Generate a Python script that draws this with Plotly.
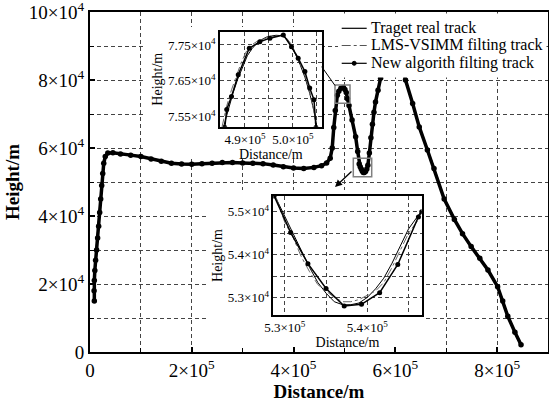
import plotly.graph_objects as go

# ---------------- data ----------------
# main track: distance (m) and height (m)
main_x = [8.5e3, 8.0e3, 8.5e3, 9.5e3, 1.1e4, 1.3e4, 1.5e4, 1.7e4, 1.9e4, 2.1e4, 2.3e4, 2.5e4, 2.7e4,
          3.0e4, 3.5e4, 4.5e4, 6.0e4, 8.0e4, 1.0e5, 1.2e5, 1.4e5, 1.6e5, 1.8e5, 2.0e5, 2.2e5,
          2.4e5, 2.6e5, 2.8e5, 3.0e5, 3.2e5, 3.4e5, 3.6e5, 3.8e5, 4.0e5, 4.2e5, 4.4e5, 4.55e5,
          4.65e5, 4.72e5, 4.76e5, 4.79e5, 4.82e5, 4.86e5, 4.89e5, 4.93e5, 4.98e5, 5.01e5, 5.035e5,
          5.06e5, 5.09e5, 5.15e5, 5.22e5, 5.26e5, 5.29e5, 5.31e5, 5.33e5, 5.35e5, 5.37e5, 5.39e5,
          5.415e5, 5.44e5, 5.46e5, 5.49e5, 5.52e5, 5.55e5, 5.58e5, 5.61e5, 5.66e5, 5.71e5, 5.8e5,
          5.95e5, 6.1e5, 6.2e5, 6.34e5, 6.47e5, 6.63e5, 6.76e5, 6.96e5, 7.16e5, 7.32e5, 7.49e5,
          7.66e5, 7.82e5, 8.01e5, 8.11e5, 8.21e5, 8.35e5, 8.47e5]
main_h = [1.50e4, 1.80e4, 2.10e4, 2.40e4, 2.70e4, 3.00e4, 3.35e4, 3.70e4, 4.10e4, 4.50e4, 4.90e4, 5.25e4, 5.55e4,
          5.75e4, 5.85e4, 5.86e4, 5.82e4, 5.79e4, 5.75e4, 5.68e4, 5.61e4, 5.55e4, 5.53e4, 5.52e4, 5.54e4,
          5.55e4, 5.57e4, 5.57e4, 5.56e4, 5.55e4, 5.54e4, 5.50e4, 5.45e4, 5.41e4, 5.40e4, 5.43e4, 5.48e4,
          5.56e4, 5.70e4, 6.00e4, 6.60e4, 7.10e4, 7.55e4, 7.67e4, 7.76e4, 7.78e4, 7.72e4, 7.63e4,
          7.45e4, 7.25e4, 6.82e4, 6.33e4, 5.90e4, 5.53e4, 5.45e4, 5.38e4, 5.32e4, 5.28e4, 5.28e4,
          5.31e4, 5.38e4, 5.49e4, 5.85e4, 6.30e4, 6.70e4, 7.05e4, 7.35e4, 7.70e4, 8.05e4, 8.90e4,
          9.40e4, 8.90e4, 8.00e4, 7.31e4, 6.62e4, 5.94e4, 5.40e4, 4.50e4, 3.90e4, 3.48e4, 3.10e4,
          2.76e4, 2.41e4, 1.92e4, 1.50e4, 1.05e4, 5.8e3, 2.1e3]

# zoom 1 (peak)
peak_real_x = [4.855e5, 4.865e5, 4.875e5, 4.885e5, 4.895e5, 4.905e5, 4.915e5, 4.925e5, 4.935e5, 4.945e5,
               4.955e5, 4.965e5, 4.975e5, 4.985e5, 4.995e5, 5.005e5, 5.015e5, 5.025e5, 5.035e5, 5.045e5, 5.05e5]
peak_real_h = [7.52e4, 7.57e4, 7.615e4, 7.655e4, 7.69e4, 7.72e4, 7.74e4, 7.755e4, 7.765e4, 7.772e4,
               7.775e4, 7.777e4, 7.776e4, 7.77e4, 7.75e4, 7.725e4, 7.695e4, 7.66e4, 7.615e4, 7.56e4, 7.52e4]
peak_lms_x = [4.852e5, 4.862e5, 4.872e5, 4.882e5, 4.892e5, 4.902e5, 4.912e5, 4.925e5, 4.94e5, 4.955e5,
              4.97e5, 4.985e5, 4.995e5, 5.005e5, 5.015e5, 5.025e5, 5.035e5, 5.043e5, 5.048e5]
peak_lms_h = [7.52e4, 7.58e4, 7.625e4, 7.665e4, 7.70e4, 7.73e4, 7.748e4, 7.76e4, 7.768e4, 7.772e4,
              7.776e4, 7.772e4, 7.755e4, 7.73e4, 7.70e4, 7.665e4, 7.62e4, 7.57e4, 7.52e4]
peak_new_x = [4.858e5, 4.862e5, 4.872e5, 4.886e5, 4.909e5, 4.931e5, 4.952e5, 4.98e5, 4.997e5, 5.011e5,
              5.025e5, 5.035e5, 5.044e5, 5.048e5]
peak_new_h = [7.52e4, 7.57e4, 7.606e4, 7.667e4, 7.741e4, 7.759e4, 7.769e4, 7.778e4, 7.745e4, 7.713e4,
              7.676e4, 7.63e4, 7.597e4, 7.52e4]

# zoom 2 (valley)
val_real_x = [5.288e5, 5.30e5, 5.31e5, 5.32e5, 5.33e5, 5.34e5, 5.35e5, 5.36e5, 5.37e5, 5.38e5, 5.39e5,
              5.40e5, 5.41e5, 5.42e5, 5.43e5, 5.44e5, 5.45e5, 5.465e5]
val_real_h = [5.537e4, 5.49e4, 5.45e4, 5.41e4, 5.37e4, 5.335e4, 5.31e4, 5.29e4, 5.283e4, 5.283e4, 5.287e4,
              5.30e4, 5.32e4, 5.345e4, 5.38e4, 5.42e4, 5.46e4, 5.50e4]
val_lms_x = [5.29e5, 5.30e5, 5.31e5, 5.32e5, 5.33e5, 5.34e5, 5.35e5, 5.36e5, 5.37e5, 5.38e5, 5.39e5,
             5.40e5, 5.41e5, 5.42e5, 5.43e5, 5.44e5, 5.45e5, 5.465e5]
val_lms_h = [5.53e4, 5.475e4, 5.44e4, 5.395e4, 5.36e4, 5.33e4, 5.315e4, 5.30e4, 5.29e4, 5.29e4, 5.295e4,
             5.305e4, 5.315e4, 5.335e4, 5.37e4, 5.41e4, 5.45e4, 5.49e4]
val_new_x = [5.287e5, 5.307e5, 5.328e5, 5.35e5, 5.372e5, 5.393e5, 5.415e5, 5.437e5, 5.462e5, 5.466e5]
val_new_h = [5.537e4, 5.452e4, 5.379e4, 5.321e4, 5.28e4, 5.284e4, 5.311e4, 5.377e4, 5.488e4, 5.50e4]

series_names = ["Traget real track", "LMS-VSIMM filting track", "New algorith filting track"]

# tick labels (major, labelled) and unlabelled grid positions (minor)
main_x_ticks = [0, 2e5, 4e5, 6e5, 8e5]
main_x_text = ["0", "2×10<sup>5</sup>", "4×10<sup>5</sup>", "6×10<sup>5</sup>", "8×10<sup>5</sup>"]
main_x_minor = [1e5, 3e5, 5e5, 7e5]
main_y_ticks = [0, 2e4, 4e4, 6e4, 8e4, 1e5]
main_y_text = ["0", "2×10<sup>4</sup>", "4×10<sup>4</sup>", "6×10<sup>4</sup>", "8×10<sup>4</sup>",
               "10×10<sup>4</sup>"]
main_y_minor = [1e4, 3e4, 5e4, 7e4, 9e4]
peak_x_ticks = [4.9e5, 5.0e5]
peak_x_text = ["4.9×10<sup>5</sup>", "5.0×10<sup>5</sup>"]
peak_x_minor = [4.95e5, 5.05e5]
peak_y_ticks = [7.55e4, 7.65e4, 7.75e4]
peak_y_text = ["7.55×10<sup>4</sup>", "7.65×10<sup>4</sup>", "7.75×10<sup>4</sup>"]
peak_y_minor = [7.6e4, 7.7e4]
val_x_ticks = [5.3e5, 5.4e5]
val_x_text = ["5.3×10<sup>5</sup>", "5.4×10<sup>5</sup>"]
val_x_minor = [5.35e5, 5.45e5]
val_y_ticks = [5.3e4, 5.4e4, 5.5e4]
val_y_text = ["5.3×10<sup>4</sup>", "5.4×10<sup>4</sup>", "5.5×10<sup>4</sup>"]
val_y_minor = [5.35e4, 5.45e4]

# ---------------- layout helpers ----------------
W, H = 549, 404
ML, MR, MT, MB = 90, 1, 12, 52
PW = W - ML - MR
PH = H - MT - MB
X_RANGE = [0, 9e5]
Y_RANGE = [0, 1e5]
FONT = "Liberation Serif, Times New Roman, serif"


def fx(px):
    return (px - ML) / PW


def fy(py):
    return (H - MB - py) / PH


def dx(px):
    return X_RANGE[0] + fx(px) * (X_RANGE[1] - X_RANGE[0])


def dy(py):
    return Y_RANGE[0] + fy(py) * (Y_RANGE[1] - Y_RANGE[0])


fig = go.Figure()

# main plot traces
fig.add_trace(go.Scatter(x=main_x, y=main_h, mode="lines", name=series_names[0],
                         line=dict(color="black", width=2), showlegend=False))
fig.add_trace(go.Scatter(x=main_x, y=main_h, mode="lines", name=series_names[1],
                         line=dict(color="#777", width=1, dash="dashdot"), showlegend=False))
fig.add_trace(go.Scatter(x=main_x, y=main_h, mode="lines+markers", name=series_names[2],
                         line=dict(color="black", width=3.5),
                         marker=dict(color="black", size=5.5), showlegend=False))

# inset 1 (peak)
fig.add_trace(go.Scatter(x=peak_real_x, y=peak_real_h, xaxis="x2", yaxis="y2", mode="lines",
                         name=series_names[0], line=dict(color="black", width=1), showlegend=False))
fig.add_trace(go.Scatter(x=peak_lms_x, y=peak_lms_h, xaxis="x2", yaxis="y2", mode="lines",
                         name=series_names[1], line=dict(color="#666", width=1, dash="dashdot"),
                         showlegend=False))
fig.add_trace(go.Scatter(x=peak_new_x, y=peak_new_h, xaxis="x2", yaxis="y2", mode="lines+markers",
                         name=series_names[2], line=dict(color="black", width=1.5),
                         marker=dict(color="black", size=5), showlegend=False))

# inset 2 (valley)
fig.add_trace(go.Scatter(x=val_real_x, y=val_real_h, xaxis="x3", yaxis="y3", mode="lines",
                         name=series_names[0], line=dict(color="black", width=1), showlegend=False))
fig.add_trace(go.Scatter(x=val_lms_x, y=val_lms_h, xaxis="x3", yaxis="y3", mode="lines",
                         name=series_names[1], line=dict(color="#666", width=1, dash="dashdot"),
                         showlegend=False))
fig.add_trace(go.Scatter(x=val_new_x, y=val_new_h, xaxis="x3", yaxis="y3", mode="lines+markers",
                         name=series_names[2], line=dict(color="black", width=1.5),
                         marker=dict(color="black", size=5), showlegend=False))

GRID = dict(showgrid=True, gridcolor="#444", gridwidth=1, griddash="4px,3px", zeroline=False)


def main_axis(minor_vals):
    return dict(showline=True, mirror=True, linecolor="black", linewidth=2,
                ticks="inside", ticklen=5, tickwidth=1.5, tickcolor="black",
                ticklabeloverflow="allow",
                tickfont=dict(family=FONT, size=19, color="black"),
                minor=dict(tickmode="array", tickvals=minor_vals, ticks="inside", ticklen=4,
                           tickwidth=1.2, tickcolor="black", showgrid=True, gridcolor="#444",
                           gridwidth=1, griddash="4px,3px"),
                **GRID)


def inset_axis(minor_vals):
    return dict(showline=True, mirror=True, linecolor="black", linewidth=1.5, ticks="",
                ticklabeloverflow="allow",
                tickfont=dict(family=FONT, size=13, color="black"),
                minor=dict(tickmode="array", tickvals=minor_vals, ticks="", showgrid=True,
                           gridcolor="#444", gridwidth=1, griddash="4px,3px"),
                **GRID)


fig.update_layout(
    width=W, height=H,
    margin=dict(l=ML, r=MR, t=MT, b=MB, autoexpand=False),
    paper_bgcolor="white", plot_bgcolor="white",
    font=dict(family=FONT, color="black"),
    showlegend=False,
    xaxis=dict(range=X_RANGE, tickmode="array", tickvals=main_x_ticks, ticktext=main_x_text,
               title=dict(text="<b>Distance/m</b>", font=dict(family=FONT, size=19), standoff=4),
               domain=[0, 1], **main_axis(main_x_minor)),
    yaxis=dict(range=Y_RANGE, tickmode="array", tickvals=main_y_ticks, ticktext=main_y_text,
               title=dict(text="<b>Height/m</b>", font=dict(family=FONT, size=19), standoff=4),
               domain=[0, 1], **main_axis(main_y_minor)),
    xaxis2=dict(domain=[fx(220), fx(321.7)], anchor="y2", range=[4.848e5, 5.06e5],
                tickmode="array", tickvals=peak_x_ticks, ticktext=peak_x_text,
                title=dict(text="Distance/m", font=dict(family=FONT, size=14), standoff=1),
                **inset_axis(peak_x_minor)),
    yaxis2=dict(domain=[fy(126.7), fy(31.7)], anchor="x2", range=[7.522e4, 7.787e4],
                tickmode="array", tickvals=peak_y_ticks, ticktext=peak_y_text,
                title=dict(text="Height/m", font=dict(family=FONT, size=14), standoff=2),
                **inset_axis(peak_y_minor)),
    xaxis3=dict(domain=[fx(273.3), fx(421.7)], anchor="y3", range=[5.286e5, 5.466e5],
                tickmode="array", tickvals=val_x_ticks, ticktext=val_x_text,
                title=dict(text="Distance/m", font=dict(family=FONT, size=14), standoff=1),
                **inset_axis(val_x_minor)),
    yaxis3=dict(domain=[fy(315), fy(196)], anchor="x3", range=[5.259e4, 5.537e4],
                tickmode="array", tickvals=val_y_ticks, ticktext=val_y_text,
                title=dict(text="Height/m", font=dict(family=FONT, size=14), standoff=2),
                **inset_axis(val_y_minor)),
)

shapes = []
# white backing behind the insets (above main grid, below main traces)
shapes.append(dict(type="rect", xref="x", yref="y", layer="between",
                   x0=dx(146), x1=dx(323), y0=dy(156), y1=dy(27),
                   fillcolor="white", line=dict(width=0)))
shapes.append(dict(type="rect", xref="x", yref="y", layer="between",
                   x0=dx(209), x1=dx(423), y0=dy(351), y1=dy(190),
                   fillcolor="white", line=dict(width=0)))
# zoom boxes on the main curve
shapes.append(dict(type="rect", xref="x", yref="y", layer="above",
                   x0=dx(335), x1=dx(350), y0=dy(103.3), y1=dy(85),
                   line=dict(color="#808080", width=1.5)))
shapes.append(dict(type="rect", xref="x", yref="y", layer="above",
                   x0=dx(353.3), x1=dx(371.7), y0=dy(176.7), y1=dy(158.3),
                   line=dict(color="#808080", width=1.5)))
# connector from peak box to inset 1
shapes.append(dict(type="line", xref="paper", yref="paper", layer="above",
                   x0=fx(321.7), y0=fy(66.7), x1=fx(335), y1=fy(85.5),
                   line=dict(color="black", width=1)))
# legend block
shapes.append(dict(type="rect", xref="paper", yref="paper", layer="above",
                   x0=fx(338), x1=fx(546.5), y0=fy(77.5), y1=fy(13.5),
                   fillcolor="white", line=dict(width=0)))
legend_rows = [28.3, 45.5, 63.3]
shapes.append(dict(type="line", xref="paper", yref="paper", layer="above",
                   x0=fx(341.7), x1=fx(366.7), y0=fy(legend_rows[0]), y1=fy(legend_rows[0]),
                   line=dict(color="black", width=1.2)))
shapes.append(dict(type="line", xref="paper", yref="paper", layer="above",
                   x0=fx(341.7), x1=fx(366.7), y0=fy(legend_rows[1]), y1=fy(legend_rows[1]),
                   line=dict(color="#555", width=1.2, dash="dashdot")))
shapes.append(dict(type="line", xref="paper", yref="paper", layer="above",
                   x0=fx(341.7), x1=fx(366.7), y0=fy(legend_rows[2]), y1=fy(legend_rows[2]),
                   line=dict(color="black", width=1.2)))
shapes.append(dict(type="circle", xref="paper", yref="paper", layer="above",
                   x0=fx(352.2), x1=fx(356.2), y0=fy(legend_rows[2] + 2), y1=fy(legend_rows[2] - 2),
                   fillcolor="black", line=dict(color="black", width=1)))
fig.update_layout(shapes=shapes)

annotations = []
for name, row in zip(series_names, legend_rows):
    annotations.append(dict(text=name, xref="paper", yref="paper", x=fx(369), y=fy(row),
                            xanchor="left", yanchor="middle", showarrow=False,
                            font=dict(family=FONT, size=16, color="black")))
# arrow from valley box to inset 2
annotations.append(dict(text="", xref="paper", yref="paper", x=fx(335), y=fy(187),
                        ax=18, ay=-17, showarrow=True, arrowhead=2, arrowsize=1.1,
                        arrowwidth=1.3, arrowcolor="black"))
fig.update_layout(annotations=annotations)

fig.write_html("out.html", config={"displayModeBar": False},
               post_script="document.body.style.margin='0';document.body.style.overflow='hidden';")
